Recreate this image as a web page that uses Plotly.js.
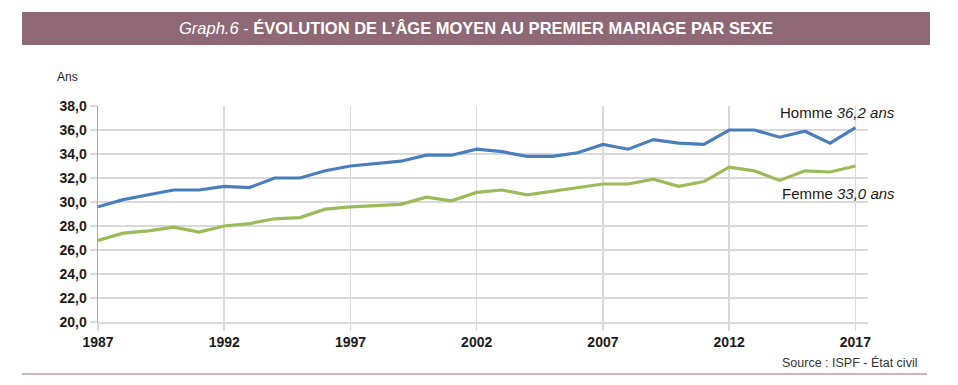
<!DOCTYPE html>
<html>
<head>
<meta charset="utf-8">
<script src="https://cdn.plot.ly/plotly-3.0.1.min.js"></script>
<style>html,body{margin:0;padding:0;background:#fff;}#chart{width:958px;height:385px;}</style>
</head>
<body>
<div id="chart"></div>
<script>
const years = [1987,1988,1989,1990,1991,1992,1993,1994,1995,1996,1997,1998,1999,2000,2001,2002,2003,2004,2005,2006,2007,2008,2009,2010,2011,2012,2013,2014,2015,2016,2017];
const homme = [29.6,30.2,30.6,31.0,31.0,31.3,31.2,32.0,32.0,32.6,33.0,33.2,33.4,33.9,33.9,34.4,34.2,33.8,33.8,34.1,34.8,34.4,35.2,34.9,34.8,36.0,36.0,35.4,35.9,34.9,36.2];
const femme = [26.8,27.4,27.6,27.9,27.5,28.0,28.2,28.6,28.7,29.4,29.6,29.7,29.8,30.4,30.1,30.8,31.0,30.6,30.9,31.2,31.5,31.5,31.9,31.3,31.7,32.9,32.6,31.8,32.6,32.5,33.0];
const yTicks = [20,22,24,26,28,30,32,34,36,38];
const xTicks = [1987,1992,1997,2002,2007,2012,2017];

const traces = [
  {x: years, y: homme, type: 'scatter', mode: 'lines', name: 'Homme',
   line: {color: '#4a7ebb', width: 3.2}, hoverinfo: 'skip'},
  {x: years, y: femme, type: 'scatter', mode: 'lines', name: 'Femme',
   line: {color: '#9bbb59', width: 3.2}, hoverinfo: 'skip'}
];

const tickFont = {size: 14, weight: 'bold', color: '#1a1a1a', family: 'Liberation Sans, Arial, sans-serif'};

const layout = {
  width: 958, height: 385,
  margin: {l: 98, r: 90, t: 106, b: 63},
  paper_bgcolor: '#ffffff', plot_bgcolor: '#ffffff',
  showlegend: false,
  separators: ', ',
  font: {family: 'Liberation Sans, Arial, sans-serif', color: '#1a1a1a'},
  xaxis: {
    range: [1987, 2017.5], tickvals: xTicks, ticktext: xTicks.map(String),
    showgrid: true, gridcolor: '#d9d9d9', gridwidth: 1.5,
    zeroline: false, showline: true, linecolor: '#d9d9d9', linewidth: 1.5,
    ticks: 'outside', ticklen: 7, tickcolor: '#d9d9d9', tickwidth: 1.5,
    tickfont: tickFont,
    fixedrange: true
  },
  yaxis: {
    range: [20, 38], tickvals: yTicks, tickformat: '.1f',
    showgrid: true, gridcolor: '#d9d9d9', gridwidth: 1.5,
    zeroline: false, showline: true, linecolor: '#a6a6a6', linewidth: 1.5,
    ticks: 'outside', ticklen: 7, tickcolor: '#d9d9d9', tickwidth: 1.5,
    tickfont: tickFont,
    fixedrange: true
  },
  shapes: [
    {type: 'rect', xref: 'paper', yref: 'paper', x0: -0.0987, x1: 1.0805, y0: 1.2824, y1: 1.4352,
     fillcolor: '#8e6874', line: {width: 0}, layer: 'below'},
    {type: 'line', xref: 'paper', yref: 'paper', x0: -0.0987, x1: 1.0766, y0: -0.2407, y1: -0.2407,
     line: {color: '#b99aa4', width: 1.5}}
  ],
  annotations: [
    {xref: 'paper', yref: 'paper', x: 0.4909, y: 1.3611, xanchor: 'center', yanchor: 'middle', showarrow: false,
     text: '<i>Graph.6</i> - <b>ÉVOLUTION DE L’ÂGE MOYEN AU PREMIER MARIAGE PAR SEXE</b>',
     font: {size: 16.5, color: '#ffffff', family: 'Liberation Sans, Arial, sans-serif'}},
    {xref: 'paper', yref: 'paper', x: -0.0558, y: 1.134, xanchor: 'left', yanchor: 'middle', showarrow: false,
     text: 'Ans', font: {size: 12, color: '#1a1a1a'}},
    {xref: 'paper', yref: 'paper', x: 0.8831, y: 0.9676, xanchor: 'left', yanchor: 'middle', showarrow: false,
     text: 'Homme <i>36,2 ans</i>', font: {size: 15, color: '#1a1a1a'}},
    {xref: 'paper', yref: 'paper', x: 0.8857, y: 0.5972, xanchor: 'left', yanchor: 'middle', showarrow: false,
     text: 'Femme <i>33,0 ans</i>', font: {size: 15, color: '#1a1a1a'}},
    {xref: 'paper', yref: 'paper', x: 1.0662, y: -0.1898, xanchor: 'right', yanchor: 'middle', showarrow: false,
     text: 'Source : ISPF - État civil', font: {size: 12.5, color: '#333333'}}
  ]
};

Plotly.newPlot('chart', traces, layout, {staticPlot: true, displayModeBar: false});
</script>
</body>
</html>
